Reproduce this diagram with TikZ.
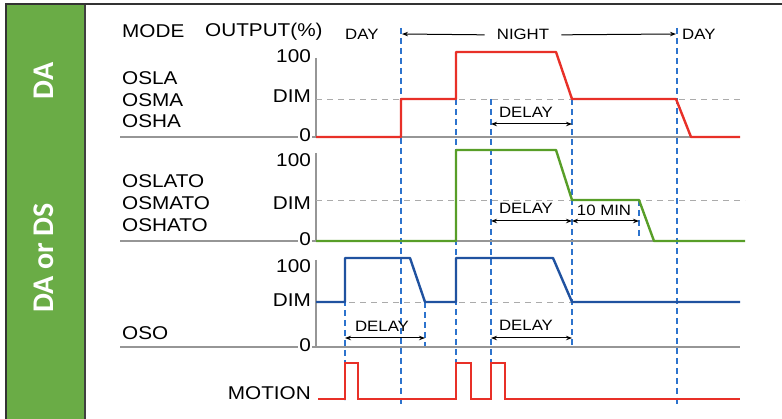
\documentclass[tikz,border=0pt]{standalone}
\usepackage{fontspec}
\setmainfont{Liberation Sans}[FakeStretch=1.12]
\newfontfamily\panelfont{Carlito}
\usetikzlibrary{arrows.meta}
\definecolor{panelgreen}{RGB}{106,172,70}
\definecolor{sigred}{RGB}{232,48,40}
\definecolor{siggreen}{RGB}{88,158,40}
\definecolor{sigblue}{RGB}{32,82,160}
\definecolor{markblue}{RGB}{45,115,205}
\definecolor{axisgray}{RGB}{150,150,150}
\begin{document}
\begin{tikzpicture}[x=1pt,y=-1pt, every node/.style={font=\fontsize{18.5}{18.5}\selectfont,inner sep=0pt},
  sm/.style={font=\fontsize{15}{15}\selectfont},
  tag/.style={anchor=base east},
  mode/.style={anchor=base west},
  panel/.style={rotate=90,text=white,font=\panelfont\bfseries\fontsize{30}{30}\selectfont},
  axis/.style={draw=axisgray,line width=1.3pt},
  dimline/.style={draw=axisgray!80,line width=0.9pt,dash pattern=on 6pt off 5pt},
  tline/.style={draw=markblue,line width=1.2pt,dash pattern=on 6pt off 4pt},
  wave/.style={line width=2.4pt,line join=round},
  span/.style={{Stealth[length=6pt,width=4.5pt]}-{Stealth[length=6pt,width=4.5pt]},line width=1pt}]
\useasboundingbox (0,0) rectangle (782,419);
% frame and side panel
\fill[panelgreen] (7,5) rectangle (84,419);
\draw[line width=2pt,black!80] (6,419) -- (6,4) -- (782,4);
\draw[line width=2pt,black!75] (84.5,5) -- (84.5,419);
\node[panel] (da) at (44,81) {DA};
\node[panel] (dads) at (44,258) {DA or DS};
% time marks
\foreach \x/\ya/\yb in {401/28/405, 677/28/405, 456/99/400, 491/99/400, 572/99/347, 345/300/400, 425/302/347, 639/200/241}
  \draw[tline] (\x,\ya) -- (\x,\yb);
% axes
\draw[axis] (120,137) -- (740,137); \draw[axis] (316,58) -- (316,137);
\draw[axis] (120,241) -- (745,241); \draw[axis] (316,153) -- (316,241);
\draw[axis] (120,347) -- (740,347); \draw[axis] (316,260) -- (316,347);
\draw[dimline] (316,99) -- (740,99); \draw[dimline] (316,200) -- (745,200); \draw[dimline] (316,302) -- (740,302);
% header
\node[mode] (mode) at (122,38) {MODE};
\node[mode] (output) at (205,37) {OUTPUT(\%)};
\node[mode,sm] (dayl) at (345,40) {DAY};
\node[sm,anchor=base] (night) at (523,40) {NIGHT};
\node[mode,sm] (dayr) at (682,40) {DAY};
\draw[-{Stealth[length=6pt,width=4.5pt]},line width=1pt] ([xshift=-12pt]night.west) -- (402,34);
\draw[-{Stealth[length=6pt,width=4.5pt]},line width=1pt] ([xshift=12pt]night.east) -- (676,34);
% mode names
\node[mode] (osla) at (122,85) {OSLA};
\node[mode] (osma) at (122,106.5) {OSMA};
\node[mode] (osha) at (122,128) {OSHA};
\node[mode] (oslato) at (122,188) {OSLATO};
\node[mode] (osmato) at (122,210) {OSMATO};
\node[mode] (oshato) at (122,232) {OSHATO};
\node[mode] (oso) at (122,340) {OSO};
% output levels
\node[tag] (fullA) at (311,63) {100}; \node[tag] (dimA) at (311,103) {DIM};
\node[tag,fill=white,inner sep=1pt] (zeroA) at (312,142) {0};
\node[tag] (fullB) at (311,167) {100}; \node[tag] (dimB) at (311,210) {DIM};
\node[tag,fill=white,inner sep=1pt] (zeroB) at (312,246) {0};
\node[tag] (fullC) at (311,273) {100}; \node[tag] (dimC) at (311,307) {DIM};
\node[tag,fill=white,inner sep=1pt] (zeroC) at (312,352) {0};
\node[tag] (motion) at (311,400) {MOTION};
% waveforms
\draw[wave,sigred] (316,137) -- (401,137) -- (401,99) -- (456,99) -- (456,52) -- (556,52) -- (572,99) -- (676,99) -- (691,137) -- (740,137);
\draw[wave,siggreen] (316,241) -- (456,241) -- (456,150) -- (556,150) -- (572,200) -- (639,200) -- (654,241) -- (745,241);
\draw[wave,sigblue] (316,302) -- (345,302) -- (345,258) -- (410,258) -- (425,302) -- (456,302) -- (456,258) -- (553,258) -- (572,302) -- (740,302);
\draw[wave,sigred,line join=miter] (318,399) -- (345,399) -- (345,363) -- (358,363) -- (358,399) -- (456,399) -- (456,363) -- (471,363) -- (471,399)
  -- (491,399) -- (491,363) -- (505,363) -- (505,399) -- (740,399);
% delays
\node[sm,anchor=base] (delayA) at (526,118) {DELAY}; \draw[span] (491,124) -- (572,124);
\node[sm,anchor=base] (delayB) at (526,214) {DELAY}; \draw[span] (491,221) -- (572,221);
\node[sm,anchor=base] (tenmin) at (604,216) {10 MIN}; \draw[span] (572,221) -- (639,221);
\node[sm,anchor=base] (delayC) at (382,332) {DELAY}; \draw[span] (345,338) -- (425,338);
\node[sm,anchor=base] (delayD) at (526,331) {DELAY}; \draw[span] (491,338) -- (572,338);
\end{tikzpicture}
\end{document}
